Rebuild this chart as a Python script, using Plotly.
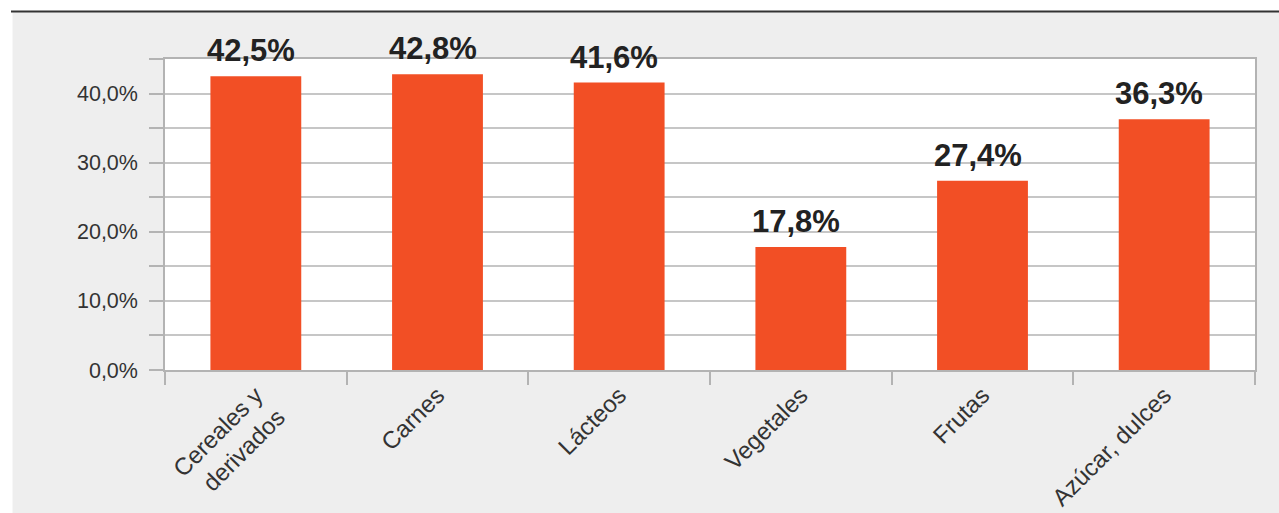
import plotly.graph_objects as go

categories = ["Cereales y<br>derivados", "Carnes", "Lácteos", "Vegetales", "Frutas", "Azúcar, dulces"]
values = [42.5, 42.8, 41.6, 17.8, 27.4, 36.3]
labels = ["42,5%", "42,8%", "41,6%", "17,8%", "27,4%", "36,3%"]

W, H = 1279, 513
L, R, T, B = 165, 24, 59, 143
pw, ph = W - L - R, H - T - B

def px(x):
    return (x - L) / pw

def py(y):
    return (H - B - y) / ph

fig = go.Figure()
fig.add_trace(go.Bar(
    x=categories, y=values,
    marker=dict(color="#f24f25", line=dict(width=0)),
    hoverinfo="skip",
))

for c, v, t in zip(categories, values, labels):
    fig.add_annotation(
        x=c, y=v, text=f"<b>{t}</b>", showarrow=False,
        yanchor="bottom", yshift=6, xshift=-5,
        font=dict(family="Liberation Sans, Arial, sans-serif", size=31, color="#222222"),
    )

grid = "#c6c6c6"
axis_line = "#b3b3b3"

fig.update_layout(
    width=W, height=H,
    margin=dict(l=L, r=R, t=T, b=B, autoexpand=False),
    paper_bgcolor="#eeeeee",
    plot_bgcolor="#ffffff",
    showlegend=False,
    bargap=0.5,
    separators=",.",
    font=dict(family="Liberation Sans, Arial, sans-serif", size=22, color="#333333"),
    xaxis=dict(
        type="category",
        automargin=False,
        tickson="boundaries",
        ticks="outside", ticklen=13, tickcolor=axis_line, tickwidth=1.5,
        showline=True, linecolor=axis_line, linewidth=1.5, mirror=True,
        showgrid=False,
        tickangle=-45,
        tickfont=dict(size=24, color="#333333"),
        fixedrange=True,
    ),
    yaxis=dict(
        range=[0, 45],
        automargin=False,
        dtick=10, tick0=0,
        tickformat=".1f", ticksuffix="%",
        ticks="outside", ticklen=14, tickcolor=axis_line, tickwidth=1.5,
        showline=True, linecolor=axis_line, linewidth=1.5, mirror=True,
        showgrid=True, gridcolor=grid, gridwidth=1.5,
        minor=dict(dtick=5, tick0=0, showgrid=True, gridcolor=grid, gridwidth=1.5,
                   ticks="outside", ticklen=14, tickcolor=axis_line, tickwidth=1.5),
        ticklabelstandoff=7,
        zeroline=False,
        tickfont=dict(size=21.5, color="#333333"),
        fixedrange=True,
    ),
    shapes=[
        dict(type="rect", xref="paper", yref="paper",
             x0=px(0), x1=px(W), y0=py(11), y1=py(0),
             fillcolor="#ffffff", line=dict(width=0), layer="above"),
        dict(type="rect", xref="paper", yref="paper",
             x0=px(0), x1=px(12.5), y0=py(H), y1=py(0),
             fillcolor="#ffffff", line=dict(width=0), layer="above"),
        dict(type="line", xref="paper", yref="paper",
             x0=px(11), x1=px(W), y0=py(11.5), y1=py(11.5),
             line=dict(color="#333333", width=2), layer="above"),
    ],
)

fig.write_html(
    "out.html",
    config={"displayModeBar": False},
    post_script="document.body.style.margin='0';document.body.style.overflow='hidden';",
)
